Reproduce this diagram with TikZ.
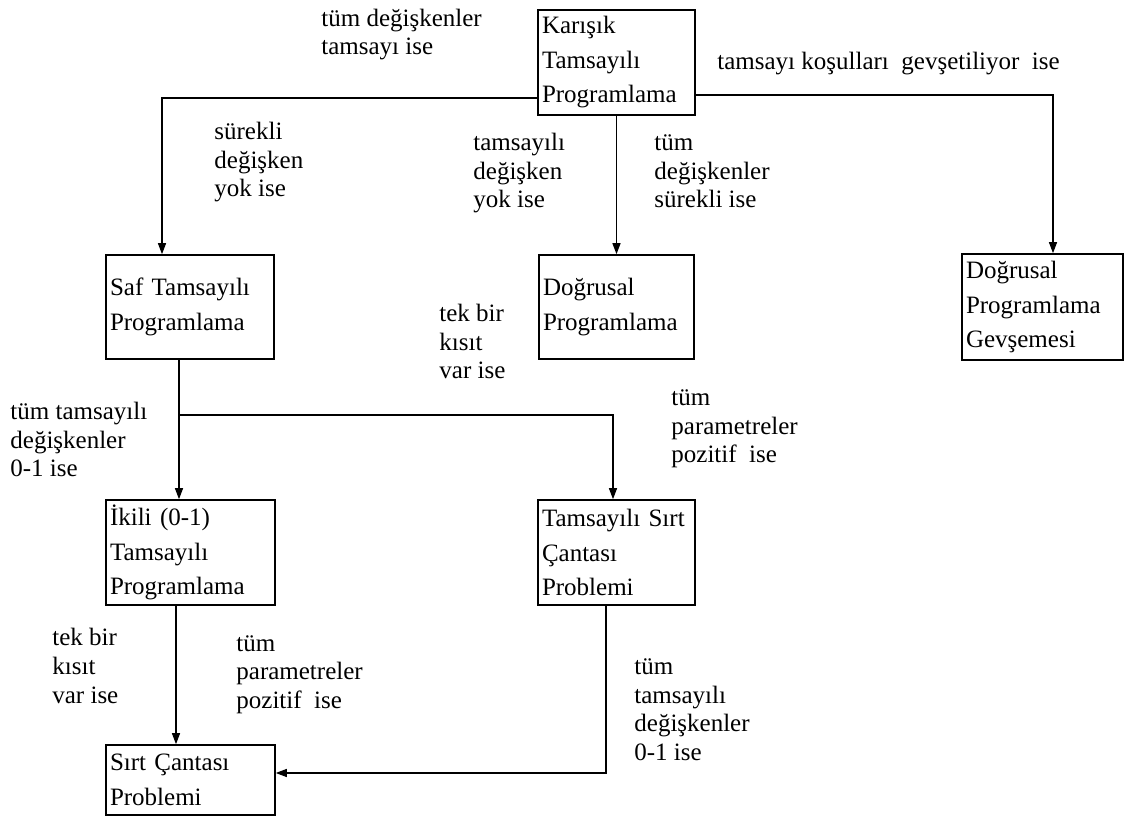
\documentclass[tikz,border=0pt]{standalone}
\usepackage{fontspec}
\setmainfont{Liberation Serif}
\usetikzlibrary{arrows.meta}

\begin{document}
\begin{tikzpicture}[x=0.5pt,y=-0.5pt,
  box/.style n args={2}{draw,line width=0.8pt,rectangle,inner xsep=2pt,inner ysep=0pt,text width=#1,minimum height=#2,align=left,font=\fontsize{12.5}{17.25}\selectfont},
  lbl/.style={anchor=base west,inner sep=0pt,align=left,font=\fontsize{12.5}{14.25}\selectfont},
  conn/.style={line width=0.6pt},
  arr/.style={conn,-{Triangle[width=4pt,length=5.5pt]}}]
\useasboundingbox (0,0) rectangle (1126,818);
% kutular
\node[box={74.5pt}{52.5pt}] (mip) at (616.5,62.5) {Karışık\\Tamsayılı\\Programlama};
\node[box={80pt}{52pt}] (saf) at (190,307) {Saf Tamsayılı\\Programlama};
\node[box={73.5pt}{52pt}] (lp) at (616.5,307) {Doğrusal\\Programlama};
\node[box={76.5pt}{53pt}] (lpr) at (1042.5,307) {Doğrusal\\Programlama\\Gevşemesi};
\node[box={80.5pt}{52.5pt}] (ikili) at (190.5,552.5) {İkili (0-1)\\Tamsayılı\\Programlama};
\node[box={74.5pt}{52.5pt}] (tsc) at (616.5,552.5) {Tamsayılı Sırt\\Çantası\\Problemi};
\node[box={80.5pt}{35pt}] (sc) at (190.5,780) {Sırt Çantası\\Problemi};
% kollar
\coordinate (lft) at (162,98);
\coordinate (rgt) at (1053,95);
\coordinate (br) at (179,415);
\coordinate (brr) at (613,415);
\coordinate (dn) at (176,680);
\coordinate (kn) at (606,773);
\draw[arr] (mip.west |- lft) -| (lft |- saf.north);
\draw[arr] (mip.east |- rgt) -| (rgt |- lpr.north);
\draw[arr] (mip.south) -- (lp.north);
\draw[conn] (saf.south -| br) -- (br);
\draw[arr] (br) -- (br |- ikili.north);
\draw[arr] (br) -- (brr) -- (brr |- tsc.north);
\draw[arr] (ikili.south -| dn) -- (dn |- sc.north);
\draw[arr] (tsc.south -| kn) |- (sc.east |- kn);
% kosullar (y = son satirin tabani)
\foreach \px/\py/\txt [count=\i] in %
{321/55/{tüm değişkenler\\tamsayı ise},
 717/70/{tamsayı koşulları\ \ gevşetiliyor\ \ ise},
 214/197/{sürekli\\değişken\\yok ise},
 473/208/{tamsayılı\\değişken\\yok ise},
 654/208/{tüm\\değişkenler\\sürekli\ ise},
 439/379/{tek bir\\kısıt\\var ise},
 10/477/{tüm tamsayılı\\değişkenler\\0-1 ise},
 671/463/{tüm\\parametreler\\pozitif\ \ ise},
 52/703/{tek bir\\kısıt\\var ise},
 236/708/{tüm\\parametreler\\pozitif\ \ ise},
 634/760/{tüm\\tamsayılı\\değişkenler\\0-1 ise}} {
   \node[lbl] (k\i) at (\px,\py) {\txt};
}
\end{tikzpicture}
\end{document}
